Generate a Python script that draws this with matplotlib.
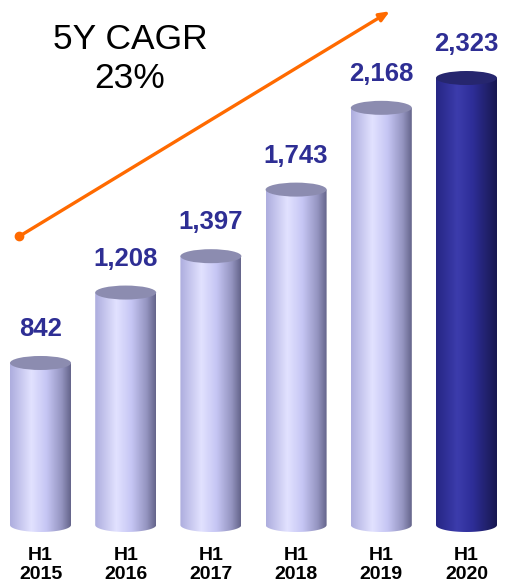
import numpy as np
import matplotlib
matplotlib.use("Agg")
import matplotlib.pyplot as plt
from matplotlib.colors import LinearSegmentedColormap
from matplotlib.patches import Ellipse, Polygon

plt.rcParams["font.family"] = ["Liberation Sans", "DejaVu Sans"]

# Half-year figures
periods = ["H1\n2015", "H1\n2016", "H1\n2017", "H1\n2018", "H1\n2019", "H1\n2020"]
values = [842, 1208, 1397, 1743, 2168, 2323]
value_labels = ["842", "1,208", "1,397", "1,743", "2,168", "2,323"]
cagr_text = "5Y CAGR\n23%"

# trend arrow endpoints (bar index, value)
arrow_start = (-0.25, 1500)
arrow_end = (4.10, 2670)

W, H, DPI = 513, 587, 100
fig = plt.figure(figsize=(W / DPI, H / DPI), dpi=DPI)
ax = fig.add_axes([0, 0, 1, 1])
base_px = 62                   # distance of the bar bases from the bottom edge
px_per_unit = 447 / 2323
ax.set_ylim(-base_px / px_per_unit, (H - base_px) / px_per_unit)
ax.set_xlim(-40.5 / 85.2, (W - 40.5) / 85.2)
ax.axis("off")

bar_w = 61 / 85.2
ell_h = 14 / px_per_unit

light = LinearSegmentedColormap.from_list("light", [
    (0.0, "#adadde"), (0.35, "#e2e2ff"), (0.6, "#c6c6f4"),
    (0.85, "#9494c0"), (1.0, "#64648a")])
dark = LinearSegmentedColormap.from_list("dark", [
    (0.0, "#262684"), (0.35, "#3c3cac"), (0.6, "#2e2e98"),
    (0.85, "#20206a"), (1.0, "#161650")])
grad = np.linspace(0, 1, 256).reshape(1, -1)

for i, v in enumerate(values):
    last = i == len(values) - 1
    cmap = dark if last else light
    top_col = "#26266e" if last else "#8c8cb0"
    x0, x1 = i - bar_w / 2, i + bar_w / 2
    # cylinder body: straight sides plus a rounded lower rim
    t = np.linspace(np.pi, 2 * np.pi, 60)
    arc = np.column_stack([i + bar_w / 2 * np.cos(t), ell_h / 2 * np.sin(t)])
    outline = np.vstack([[x0, v], arc, [x1, v]])
    clip = Polygon(outline, closed=True, transform=ax.transData,
                   facecolor="none", edgecolor="none")
    ax.add_patch(clip)
    im = ax.imshow(grad, cmap=cmap, aspect="auto", interpolation="bilinear",
                   extent=(x0, x1, -ell_h / 2, v), zorder=2)
    im.set_clip_path(clip)
    ax.add_patch(Ellipse((i, v), bar_w, ell_h, facecolor=top_col,
                         edgecolor="none", zorder=3))
    ax.text(i, v + 27 / px_per_unit, value_labels[i], ha="center", va="baseline",
            fontsize=18.5, fontweight="bold", color="#2e2e94", zorder=4)
    ax.text(i, -22 / px_per_unit, periods[i], ha="center", va="top",
            fontsize=14, fontweight="bold", color="black", linespacing=1.15)

ax.annotate("", xy=arrow_end, xytext=arrow_start,
            arrowprops=dict(arrowstyle="-|>,head_length=0.6,head_width=0.25",
                            color="#ff6a00", lw=2.4, shrinkA=0, shrinkB=0),
            zorder=5)
ax.plot(*arrow_start, "o", color="#ff6a00", markersize=6, zorder=5)

ax.text(130 / W, 1 - 59 / H, cagr_text, transform=ax.transAxes, ha="center",
        va="center", fontsize=25.5, color="black", linespacing=1.2)

fig.savefig("out.png", dpi=DPI)
